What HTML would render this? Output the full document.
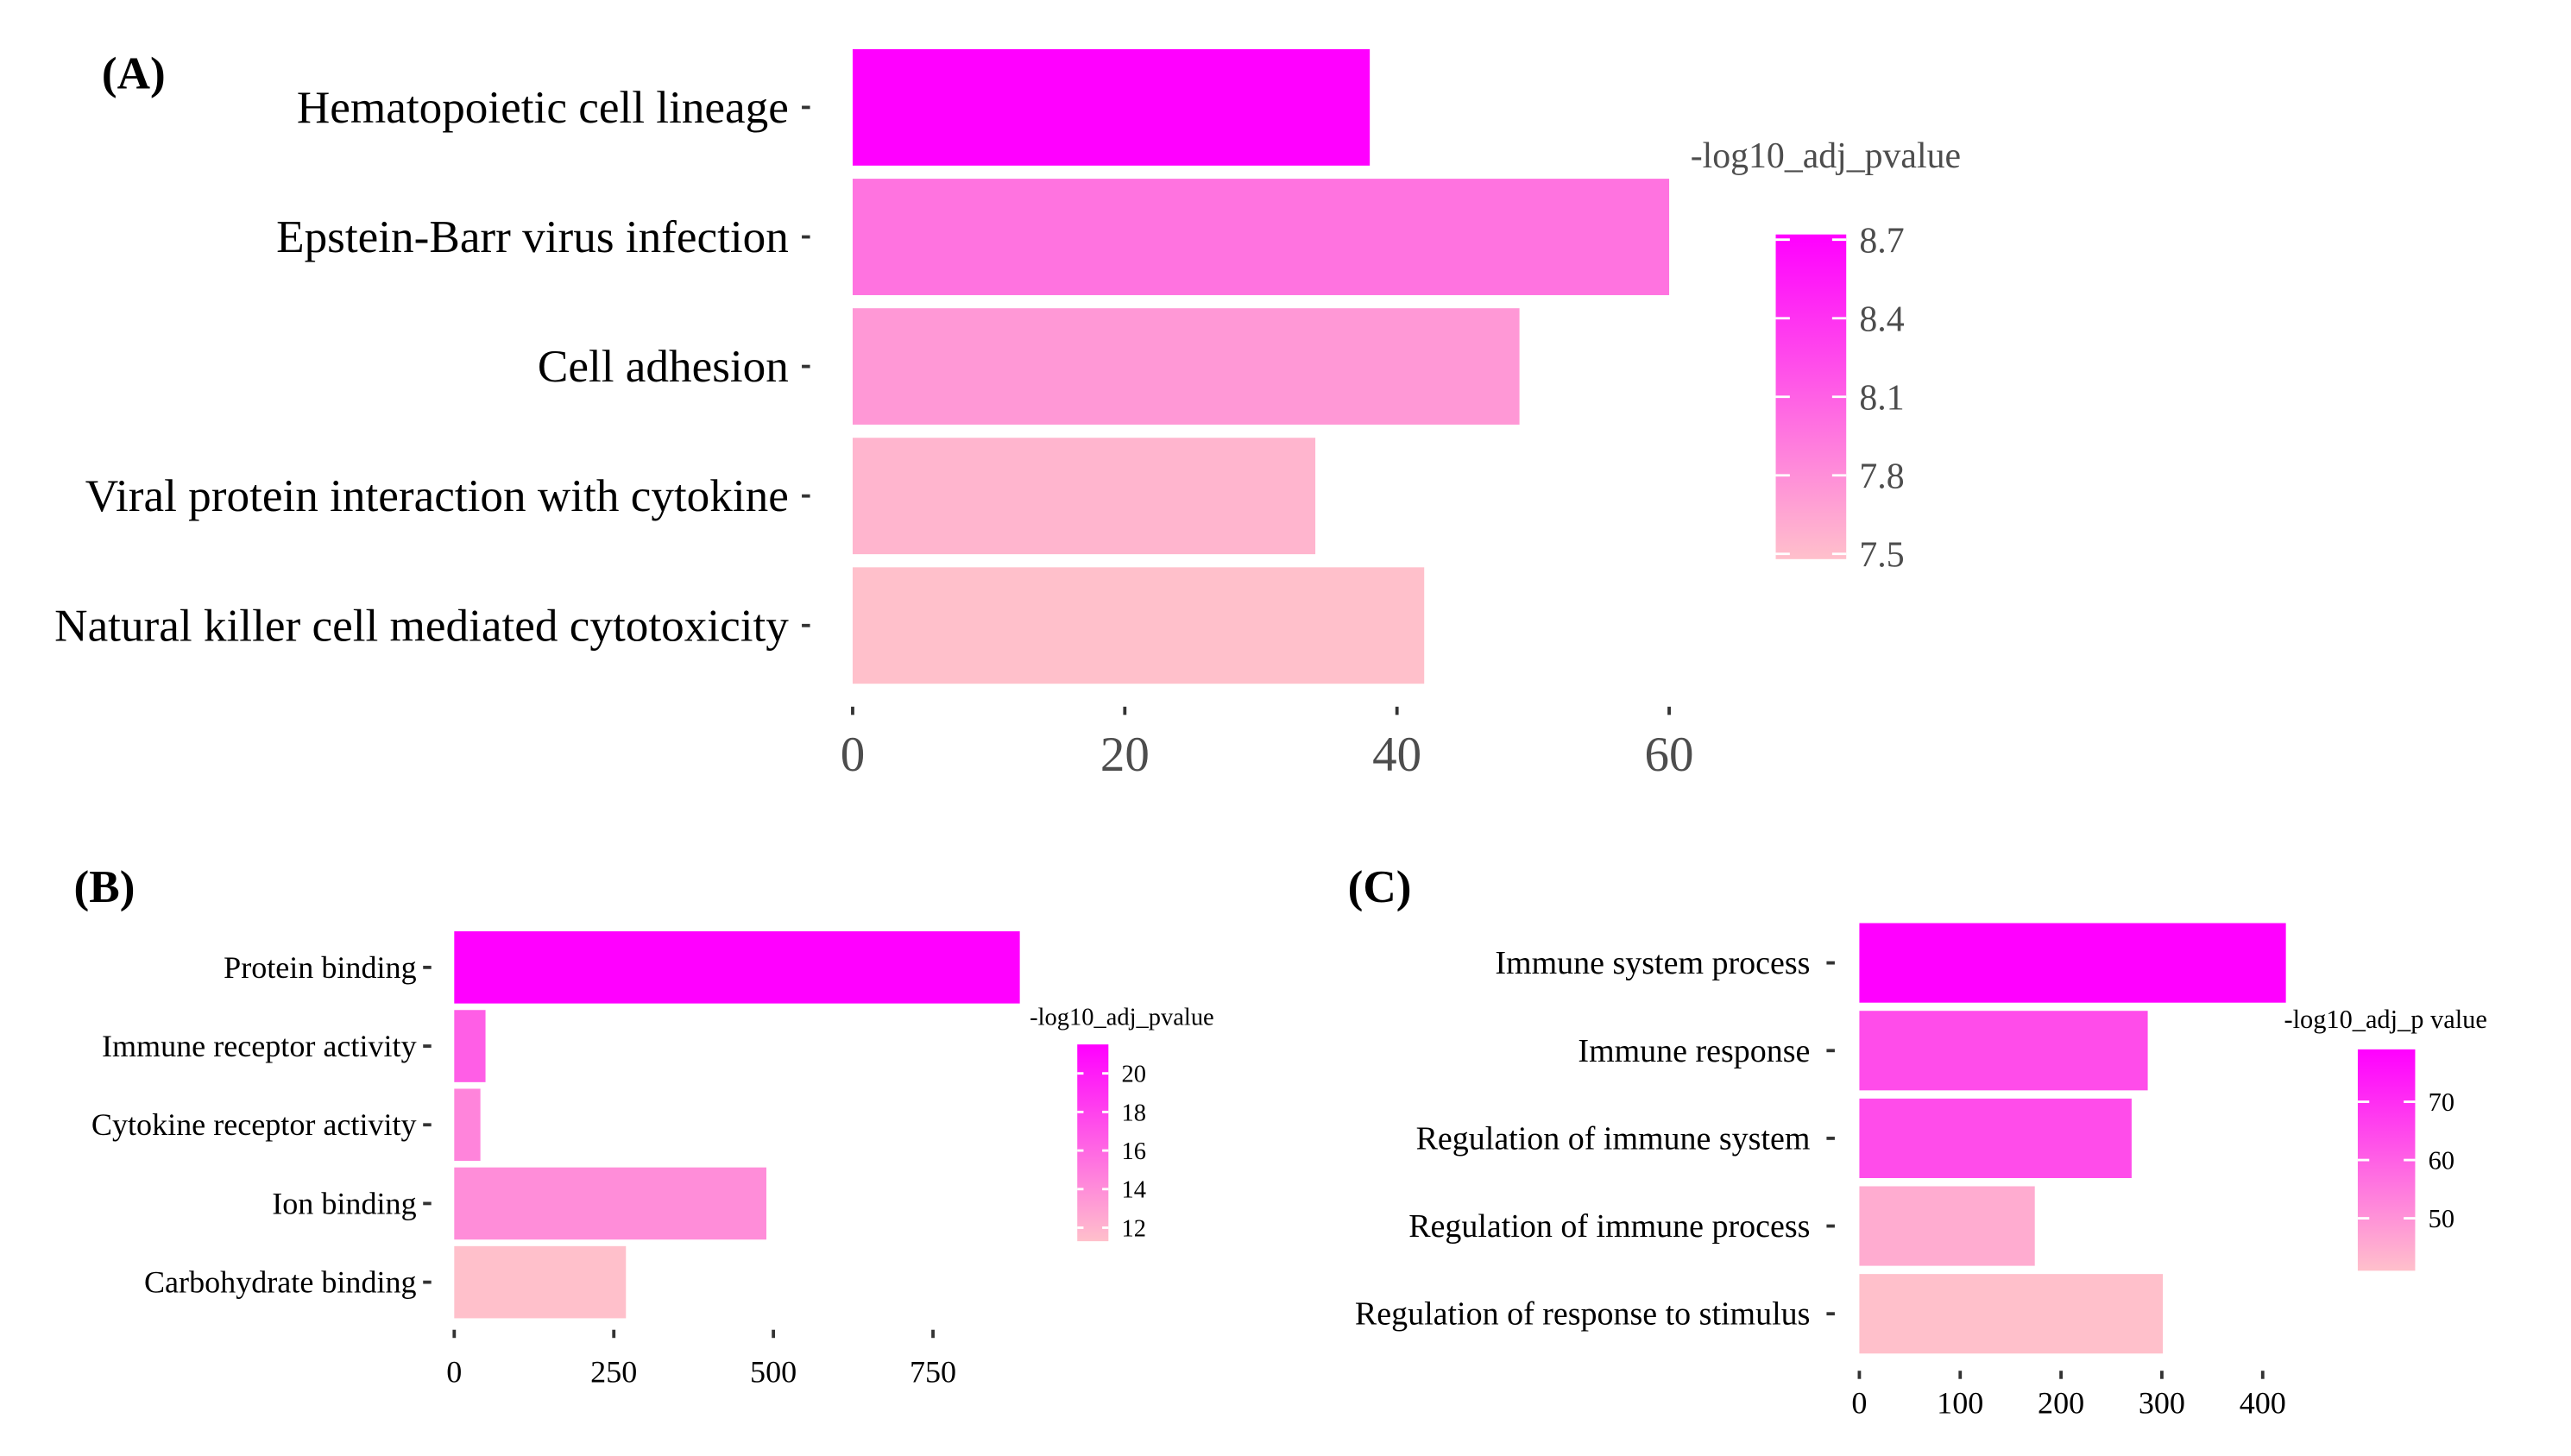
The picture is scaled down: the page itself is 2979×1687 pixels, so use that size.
<!DOCTYPE html>
<html><head><meta charset="utf-8"><style>
html,body{margin:0;padding:0;background:#fff}
svg{display:block}
text{font-family:"Liberation Serif",serif}
</style></head><body>
<svg id="root" width="2979" height="1687" viewBox="0 0 1568 888">
<defs>
<linearGradient id="lg" x1="0" y1="1" x2="0" y2="0"><stop offset="0" stop-color="#FFC0CB"/><stop offset="1" stop-color="#FF00FF"/></linearGradient>
</defs>
<text x="62" y="54" font-size="28" font-weight="bold">(A)</text>
<text x="45" y="550" font-size="28" font-weight="bold">(B)</text>
<text x="822" y="550" font-size="28" font-weight="bold">(C)</text>
<g id="pa"></g>
<g id="pb"></g>
<g id="pc"></g>
</svg>
<script>
const aCategories=["Hematopoietic cell lineage","Epstein-Barr virus infection","Cell adhesion","Viral protein interaction with cytokine","Natural killer cell mediated cytotoxicity"];
const aValues=[38,60,49,34,42];
const aPvals=[8.72,7.98,7.74,7.55,7.48];
const aTicks=[0,20,40,60];
const aLegendTicks=[8.7,8.4,8.1,7.8,7.5];

const bCategories=["Protein binding","Immune receptor activity","Cytokine receptor activity","Ion binding","Carbohydrate binding"];
const bValues=[886,49,41,489,269];
const bPvals=[21.5,16.5,14.5,14.0,11.3];
const bTicks=[0,250,500,750];
const bLegendTicks=[20,18,16,14,12];

const cCategories=["Immune system process","Immune response","Regulation of immune system","Regulation of immune process","Regulation of response to stimulus"];
const cValues=[423,286,270,174,301];
const cPvals=[79,64,64,45,41];
const cTicks=[0,100,200,300,400];
const cLegendTicks=[70,60,50];

const NS="http://www.w3.org/2000/svg";
function mk(parent,tag,attrs,txt){const e=document.createElementNS(NS,tag);for(const k in attrs)e.setAttribute(k,attrs[k]);if(txt!==undefined)e.textContent=txt;parent.appendChild(e);return e;}
function col(p,mn,mx){let t=(p-mn)/(mx-mn);t=Math.max(0,Math.min(1,t));const g=Math.round(192*(1-t)),b=Math.round(203+52*t);return `rgb(255,${g},${b})`;}

function panel(g,cfg){
  const x=v=>cfg.x0+(v-cfg.d0)*(cfg.x1-cfg.x0)/(cfg.d1-cfg.d0);
  const mn=Math.min(...cfg.p),mx=Math.max(...cfg.p);
  cfg.cats.forEach((c,i)=>{
    const y0=cfg.yTop+i*cfg.step;
    const r=mk(g,'rect',{x:x(0),y:y0,width:x(cfg.vals[i])-x(0),height:cfg.bh,fill:col(cfg.p[i],mn,mx)});
    
    
    const cy=y0+cfg.bh/2;
    const t=mk(g,'text',{x:cfg.labX,y:cy+cfg.fs*0.33,'font-size':cfg.fs,'text-anchor':'end',fill:'#000'},c);
    
    
    mk(g,'line',{x1:cfg.labX+cfg.tg,x2:cfg.labX+cfg.tg+5,y1:cy,y2:cy,stroke:'#333','stroke-width':2});
  });
  cfg.ticks.forEach(v=>{
    mk(g,'line',{x1:x(v),x2:x(v),y1:cfg.tickY,y2:cfg.tickY+5,stroke:'#333','stroke-width':2});
    const t=mk(g,'text',{x:x(v),y:cfg.tlY,'font-size':cfg.tfs,'text-anchor':'middle',fill:cfg.tcol},String(v));
    
    
  });
  const L=cfg.leg;
  const lt=mk(g,'text',{x:L.tx,y:L.ty,'font-size':L.tfs,fill:cfg.tcol},L.title);
  
  
  const cb=mk(g,'rect',{x:L.x,y:L.y0,width:L.w,height:L.y1-L.y0,fill:'url(#lg)'});
  
  
  const ly=v=>L.y1-(v-mn)/(mx-mn)*(L.y1-L.y0);
  cfg.lticks.forEach(v=>{
    const yy=ly(v);
    mk(g,'line',{x1:L.x,x2:L.x+L.w*0.2,y1:yy,y2:yy,stroke:'#fff','stroke-width':1.5});
    mk(g,'line',{x1:L.x+L.w*0.8,x2:L.x+L.w,y1:yy,y2:yy,stroke:'#fff','stroke-width':1.5});
    const t=mk(g,'text',{x:L.x+L.w+8,y:yy+L.fs*0.35,'font-size':L.fs,fill:cfg.tcol},String(v));
    
    
  });
}
panel(document.getElementById('pa'),{id:'a',cats:aCategories,vals:aValues,p:aPvals,ticks:aTicks,lticks:aLegendTicks,
 x0:520,x1:1018,d0:0,d1:60,yTop:30,step:79,bh:71,labX:481,tg:8,fs:28,tickY:431,tlY:470,tfs:30,tcol:'#4d4d4d',
 leg:{title:'-log10_adj_pvalue',tx:1031,ty:102,tfs:22,x:1083,w:43,y0:143,y1:341,fs:22}});
panel(document.getElementById('pb'),{id:'b',cats:bCategories,vals:bValues,p:bPvals,ticks:bTicks,lticks:bLegendTicks,
 x0:277,x1:569,d0:0,d1:750,yTop:568,step:48,bh:44,labX:254,tg:4,fs:19,tickY:811,tlY:843,tfs:19,tcol:'#000',
 leg:{title:'-log10_adj_pvalue',tx:628,ty:625,tfs:15,x:657,w:19,y0:637,y1:757,fs:15}});
panel(document.getElementById('pc'),{id:'c',cats:cCategories,vals:cValues,p:cPvals,ticks:cTicks,lticks:cLegendTicks,
 x0:1134,x1:1380,d0:0,d1:400,yTop:563,step:53.5,bh:48.5,labX:1104,tg:10,fs:20,tickY:836,tlY:862,tfs:19,tcol:'#000',
 leg:{title:'-log10_adj_p value',tx:1393,ty:627,tfs:16,x:1438,w:35,y0:640,y1:775,fs:16}});
</script>
</body></html>
